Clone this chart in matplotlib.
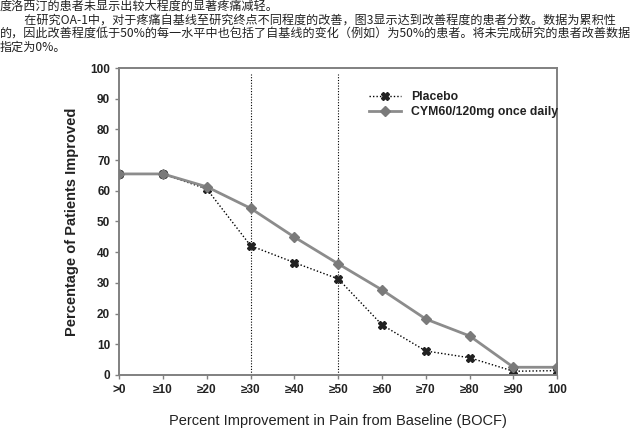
import matplotlib
matplotlib.use("Agg")
import matplotlib.pyplot as plt

# categories and read-off values (% of patients improved)
categories = [">0", "≥10", "≥20", "≥30", "≥40", "≥50", "≥60", "≥70", "≥80", "≥90", "100"]
cym = [65.5, 65.5, 61.3, 54.3, 44.9, 36.2, 27.7, 18.2, 12.7, 2.5, 2.5]
placebo = [65.5, 65.5, 60.6, 42.1, 36.6, 31.3, 16.3, 7.8, 5.6, 1.2, 1.4]
ref_lines = ["≥30", "≥50"]
yticks = list(range(0, 101, 10))

header = [
    "度洛西汀的患者未显示出较大程度的显著疼痛减轻。",
    "　　在研究OA-1中，对于疼痛自基线至研究终点不同程度的改善，图3显示达到改善程度的患者分数。数据为累积性",
    "的，因此改善程度低于50%的每一水平中也包括了自基线的变化（例如）为50%的患者。将未完成研究的患者改善数据",
    "指定为0%。",
]

plt.rcParams["font.family"] = ["Liberation Sans", "DejaVu Sans"]

fig = plt.figure(figsize=(6.34, 4.28), dpi=100)
ax = fig.add_axes([0.188, 0.124, 0.691, 0.717])

x = list(range(len(categories)))
for c in ref_lines:
    ax.axvline(categories.index(c), ymax=0.98, color="black", ls=(0, (1, 1.5)), lw=0.8, zorder=1)

ax.plot(x, placebo, color="black", ls=(0, (1, 1.5)), lw=1.0, marker="X", ms=6,
        mfc="#222222", mec="#222222", label="Placebo", zorder=2)
ax.plot(x, cym, color="#8c8c8c", lw=2.0, marker="D", ms=5.5, mfc="#7a7a7a",
        mec="#7a7a7a", label="CYM60/120mg once daily", zorder=3)

ax.set_xlim(0, 10)
ax.set_ylim(0, 100)
ax.set_xticks(x)
ax.set_xticklabels(categories)
ax.set_yticks(yticks)
for s in ax.spines.values():
    s.set_color("#808080")
    s.set_linewidth(1.4)
ax.tick_params(labelsize=8.5, color="#808080", length=3, width=1)
for lab in ax.get_xticklabels() + ax.get_yticklabels():
    lab.set_fontweight("bold")
    lab.set_color("#222222")

ax.set_xlabel("Percent Improvement in Pain from Baseline (BOCF)", fontsize=10.5,
              labelpad=13, color="#222222")
ax.set_ylabel("Percentage of Patients Improved", fontsize=10.5, fontweight="bold",
              labelpad=8, color="#222222")

leg = ax.legend(loc="upper left", bbox_to_anchor=(0.56, 0.94), frameon=False,
                fontsize=8.8, handlelength=2.6, borderaxespad=0, labelspacing=0.2)
for t in leg.get_texts():
    t.set_fontweight("bold")
    t.set_color("#222222")

for i, line in enumerate(header):
    fig.text(0.0, 1.0 - i * 0.0316, line, fontsize=8.7, va="top", ha="left",
             family=["Noto Sans CJK SC", "DejaVu Sans"], color="#222222")

fig.savefig("out.png", dpi=100)
